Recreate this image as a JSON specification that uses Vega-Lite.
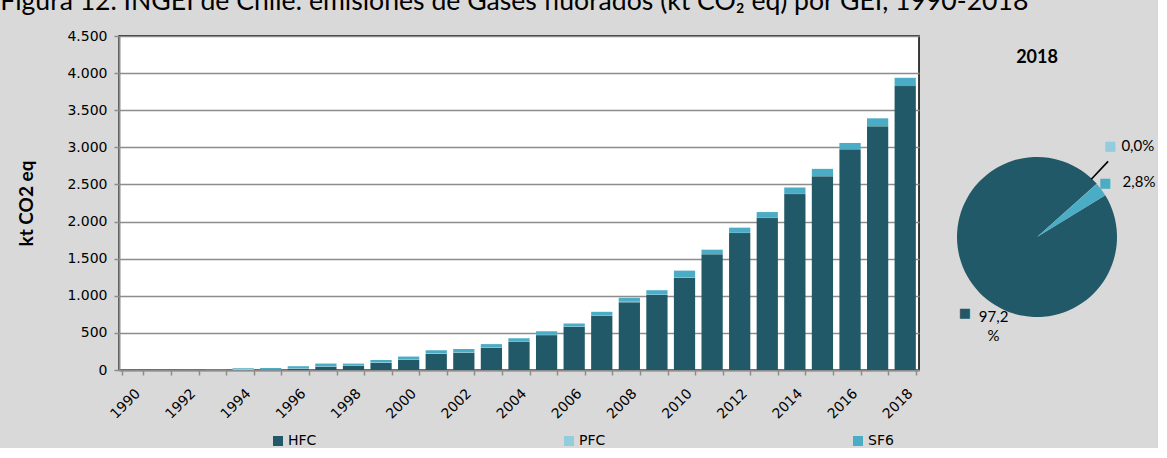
{
  "$schema": "https://vega.github.io/schema/vega-lite/v6.json",
  "background": "#d9d9d9",
  "padding": {"left": 0, "top": -12, "right": 2, "bottom": 0},
  "title": {"text": "Figura 12. INGEI de Chile: emisiones de Gases fluorados (kt CO₂ eq) por GEI, 1990-2018", "anchor": "start", "frame": "bounds", "font": "Lato", "fontSize": 26.6, "fontWeight": "normal", "color": "#000000", "dx": -17, "offset": 13},
  "data": {"values": [
    {"year": 1990, "gas": "HFC", "value": 0}, {"year": 1990, "gas": "PFC", "value": 0}, {"year": 1990, "gas": "SF6", "value": 1},
    {"year": 1991, "gas": "HFC", "value": 0}, {"year": 1991, "gas": "PFC", "value": 0}, {"year": 1991, "gas": "SF6", "value": 1},
    {"year": 1992, "gas": "HFC", "value": 0}, {"year": 1992, "gas": "PFC", "value": 0}, {"year": 1992, "gas": "SF6", "value": 2},
    {"year": 1993, "gas": "HFC", "value": 0}, {"year": 1993, "gas": "PFC", "value": 1}, {"year": 1993, "gas": "SF6", "value": 4},
    {"year": 1994, "gas": "HFC", "value": 0}, {"year": 1994, "gas": "PFC", "value": 14}, {"year": 1994, "gas": "SF6", "value": 10},
    {"year": 1995, "gas": "HFC", "value": 2}, {"year": 1995, "gas": "PFC", "value": 3}, {"year": 1995, "gas": "SF6", "value": 22},
    {"year": 1996, "gas": "HFC", "value": 16}, {"year": 1996, "gas": "PFC", "value": 5}, {"year": 1996, "gas": "SF6", "value": 30},
    {"year": 1997, "gas": "HFC", "value": 45}, {"year": 1997, "gas": "PFC", "value": 5}, {"year": 1997, "gas": "SF6", "value": 37},
    {"year": 1998, "gas": "HFC", "value": 54}, {"year": 1998, "gas": "PFC", "value": 4}, {"year": 1998, "gas": "SF6", "value": 28},
    {"year": 1999, "gas": "HFC", "value": 99}, {"year": 1999, "gas": "PFC", "value": 4}, {"year": 1999, "gas": "SF6", "value": 33},
    {"year": 2000, "gas": "HFC", "value": 139}, {"year": 2000, "gas": "PFC", "value": 4}, {"year": 2000, "gas": "SF6", "value": 38},
    {"year": 2001, "gas": "HFC", "value": 220}, {"year": 2001, "gas": "PFC", "value": 5}, {"year": 2001, "gas": "SF6", "value": 40},
    {"year": 2002, "gas": "HFC", "value": 233}, {"year": 2002, "gas": "PFC", "value": 5}, {"year": 2002, "gas": "SF6", "value": 45},
    {"year": 2003, "gas": "HFC", "value": 300}, {"year": 2003, "gas": "PFC", "value": 4}, {"year": 2003, "gas": "SF6", "value": 45},
    {"year": 2004, "gas": "HFC", "value": 378}, {"year": 2004, "gas": "PFC", "value": 4}, {"year": 2004, "gas": "SF6", "value": 45},
    {"year": 2005, "gas": "HFC", "value": 470}, {"year": 2005, "gas": "PFC", "value": 4}, {"year": 2005, "gas": "SF6", "value": 48},
    {"year": 2006, "gas": "HFC", "value": 582}, {"year": 2006, "gas": "PFC", "value": 4}, {"year": 2006, "gas": "SF6", "value": 42},
    {"year": 2007, "gas": "HFC", "value": 730}, {"year": 2007, "gas": "PFC", "value": 4}, {"year": 2007, "gas": "SF6", "value": 50},
    {"year": 2008, "gas": "HFC", "value": 914}, {"year": 2008, "gas": "PFC", "value": 4}, {"year": 2008, "gas": "SF6", "value": 54},
    {"year": 2009, "gas": "HFC", "value": 1012}, {"year": 2009, "gas": "PFC", "value": 3}, {"year": 2009, "gas": "SF6", "value": 60},
    {"year": 2010, "gas": "HFC", "value": 1241}, {"year": 2010, "gas": "PFC", "value": 3}, {"year": 2010, "gas": "SF6", "value": 95},
    {"year": 2011, "gas": "HFC", "value": 1559}, {"year": 2011, "gas": "PFC", "value": 3}, {"year": 2011, "gas": "SF6", "value": 59},
    {"year": 2012, "gas": "HFC", "value": 1845}, {"year": 2012, "gas": "PFC", "value": 3}, {"year": 2012, "gas": "SF6", "value": 70},
    {"year": 2013, "gas": "HFC", "value": 2047}, {"year": 2013, "gas": "PFC", "value": 3}, {"year": 2013, "gas": "SF6", "value": 78},
    {"year": 2014, "gas": "HFC", "value": 2370}, {"year": 2014, "gas": "PFC", "value": 3}, {"year": 2014, "gas": "SF6", "value": 86},
    {"year": 2015, "gas": "HFC", "value": 2611}, {"year": 2015, "gas": "PFC", "value": 3}, {"year": 2015, "gas": "SF6", "value": 96},
    {"year": 2016, "gas": "HFC", "value": 2974}, {"year": 2016, "gas": "PFC", "value": 3}, {"year": 2016, "gas": "SF6", "value": 82},
    {"year": 2017, "gas": "HFC", "value": 3283}, {"year": 2017, "gas": "PFC", "value": 3}, {"year": 2017, "gas": "SF6", "value": 105},
    {"year": 2018, "gas": "HFC", "value": 3825}, {"year": 2018, "gas": "PFC", "value": 1}, {"year": 2018, "gas": "SF6", "value": 111}
  ]},
  "spacing": 19.5,
  "bounds": "flush",
  "hconcat": [
    {
      "width": 800,
      "height": 334,
      "view": {"fill": "#ffffff", "stroke": "#000000", "strokeWidth": 1.5},
      "mark": {"type": "bar"},
      "encoding": {
        "x": {"field": "year", "type": "ordinal", "scale": {"paddingInner": 0.23, "paddingOuter": 0.115},
              "axis": {"title": null, "labelAngle": -45, "labelAlign": "right", "labelBaseline": "middle", "labelExpr": "datum.value % 2 == 0 ? datum.label : ''", "tickBand": "extent", "labelPadding": 16, "labelOffset": 5, "grid": false}},
        "y": {"field": "value", "type": "quantitative", "scale": {"domain": [0, 4500]},
              "axis": {"title": "kt CO2 eq", "values": [0, 500, 1000, 1500, 2000, 2500, 3000, 3500, 4000, 4500], "labelExpr": "replace(format(datum.value, ','), ',', '.')", "labelPadding": 7, "titlePadding": 30, "titleFontSize": 19, "grid": true}},
        "color": {"field": "gas", "type": "nominal", "scale": {"domain": ["HFC", "PFC", "SF6"], "range": ["#215968", "#93cddd", "#4bacc6"]},
                  "legend": {"orient": "none", "legendX": 152, "legendY": 398, "direction": "horizontal", "title": null, "symbolType": "square", "symbolSize": 100, "symbolStrokeWidth": 0, "labelFont": "DejaVu Sans", "labelFontSize": 14, "labelColor": "#000000", "columnPadding": 245, "labelOffset": 3}},
        "order": {"field": "gas", "sort": "ascending"}
      }
    },
    {
      "width": 197,
      "height": 402,
      "view": {"fill": null, "stroke": null},
      "title": {"text": "2018", "frame": "group", "anchor": "middle", "baseline": "middle", "offset": -40, "font": "Lato", "fontSize": 18, "fontWeight": "bold", "color": "#000000"},
      "transform": [
        {"filter": "datum.year == 2018"},
        {"stack": "value", "groupby": [], "sort": [{"field": "gas", "order": "ascending"}], "offset": "normalize", "as": ["v0", "v1"]},
        {"calculate": "(datum.v0 + datum.v1) / 2", "as": "mid"},
        {"calculate": "replace(format(datum.v1 - datum.v0, '.1%'), '.', ',')", "as": "pct"}
      ],
      "layer": [
        {
          "mark": {"type": "arc", "outerRadius": 80},
          "encoding": {
            "theta": {"field": "v0", "type": "quantitative", "stack": null, "scale": {"domain": [0, 1], "range": [1.0227, 7.3059]}},
            "theta2": {"field": "v1"},
            "color": {"field": "gas", "type": "nominal"}
          }
        },
        {
          "transform": [{"filter": "datum.gas == 'PFC'"}],
          "mark": {"type": "arc", "innerRadius": 80, "outerRadius": 103, "thetaOffset": -0.09, "theta2Offset": -0.09, "stroke": "#000000", "strokeWidth": 1.5, "fillOpacity": 0},
          "encoding": {
            "theta": {"field": "v0", "type": "quantitative", "stack": null, "scale": {"domain": [0, 1], "range": [1.0227, 7.3059]}},
            "theta2": {"field": "v1"}
          }
        },
        {
          "transform": [{"filter": "datum.gas == 'PFC'"}],
          "layer": [
            {"mark": {"type": "text", "text": "■", "font": "DejaVu Sans", "fontSize": 13, "radius": 117, "thetaOffset": -0.169, "baseline": "middle", "align": "center"},
             "encoding": {"theta": {"field": "mid", "type": "quantitative", "stack": null}, "color": {"field": "gas", "type": "nominal"}}},
            {"mark": {"type": "text", "font": "Lato", "fontSize": 15, "radius": 136, "thetaOffset": -0.01, "baseline": "middle", "align": "center", "color": "#000000"},
             "encoding": {"theta": {"field": "mid", "type": "quantitative", "stack": null}, "text": {"field": "pct"}}}
          ]
        },
        {
          "transform": [{"filter": "datum.gas == 'SF6'"}],
          "layer": [
            {"mark": {"type": "text", "text": "■", "font": "DejaVu Sans", "fontSize": 13, "radius": 87, "thetaOffset": -0.033, "baseline": "middle", "align": "center"},
             "encoding": {"theta": {"field": "mid", "type": "quantitative", "stack": null}, "color": {"field": "gas", "type": "nominal"}}},
            {"mark": {"type": "text", "font": "Lato", "fontSize": 15, "radius": 116, "thetaOffset": 0.14, "baseline": "middle", "align": "center", "color": "#000000"},
             "encoding": {"theta": {"field": "mid", "type": "quantitative", "stack": null}, "text": {"field": "pct"}}}
          ]
        },
        {
          "transform": [{"filter": "datum.gas == 'HFC'"}, {"calculate": "replace(datum.pct, '%', '\\n%')", "as": "pct2"}],
          "layer": [
            {"mark": {"type": "text", "text": "■", "font": "DejaVu Sans", "fontSize": 13, "radius": 105, "thetaOffset": -0.175, "baseline": "middle", "align": "center"},
             "encoding": {"theta": {"field": "mid", "type": "quantitative", "stack": null}, "color": {"field": "gas", "type": "nominal"}}},
            {"mark": {"type": "text", "font": "Lato", "fontSize": 15, "radius": 91, "thetaOffset": -0.436, "baseline": "middle", "align": "center", "lineBreak": "\n", "lineHeight": 19, "color": "#000000"},
             "encoding": {"theta": {"field": "mid", "type": "quantitative", "stack": null}, "text": {"field": "pct2"}}}
          ]
        }
      ]
    }
  ],
  "config": {
    "font": "Lato",
    "view": {"stroke": null},
    "axis": {"labelFont": "DejaVu Sans", "labelFontSize": 14, "labelColor": "#000000", "domainColor": "#8c8c8c", "domainWidth": 2, "tickColor": "#8c8c8c", "tickWidth": 1.5, "tickSize": 5, "gridColor": "#8c8c8c", "gridWidth": 1.5, "titleFont": "Lato", "titleFontSize": 17, "titleFontWeight": "bold", "titleColor": "#000000"}
  }
}
